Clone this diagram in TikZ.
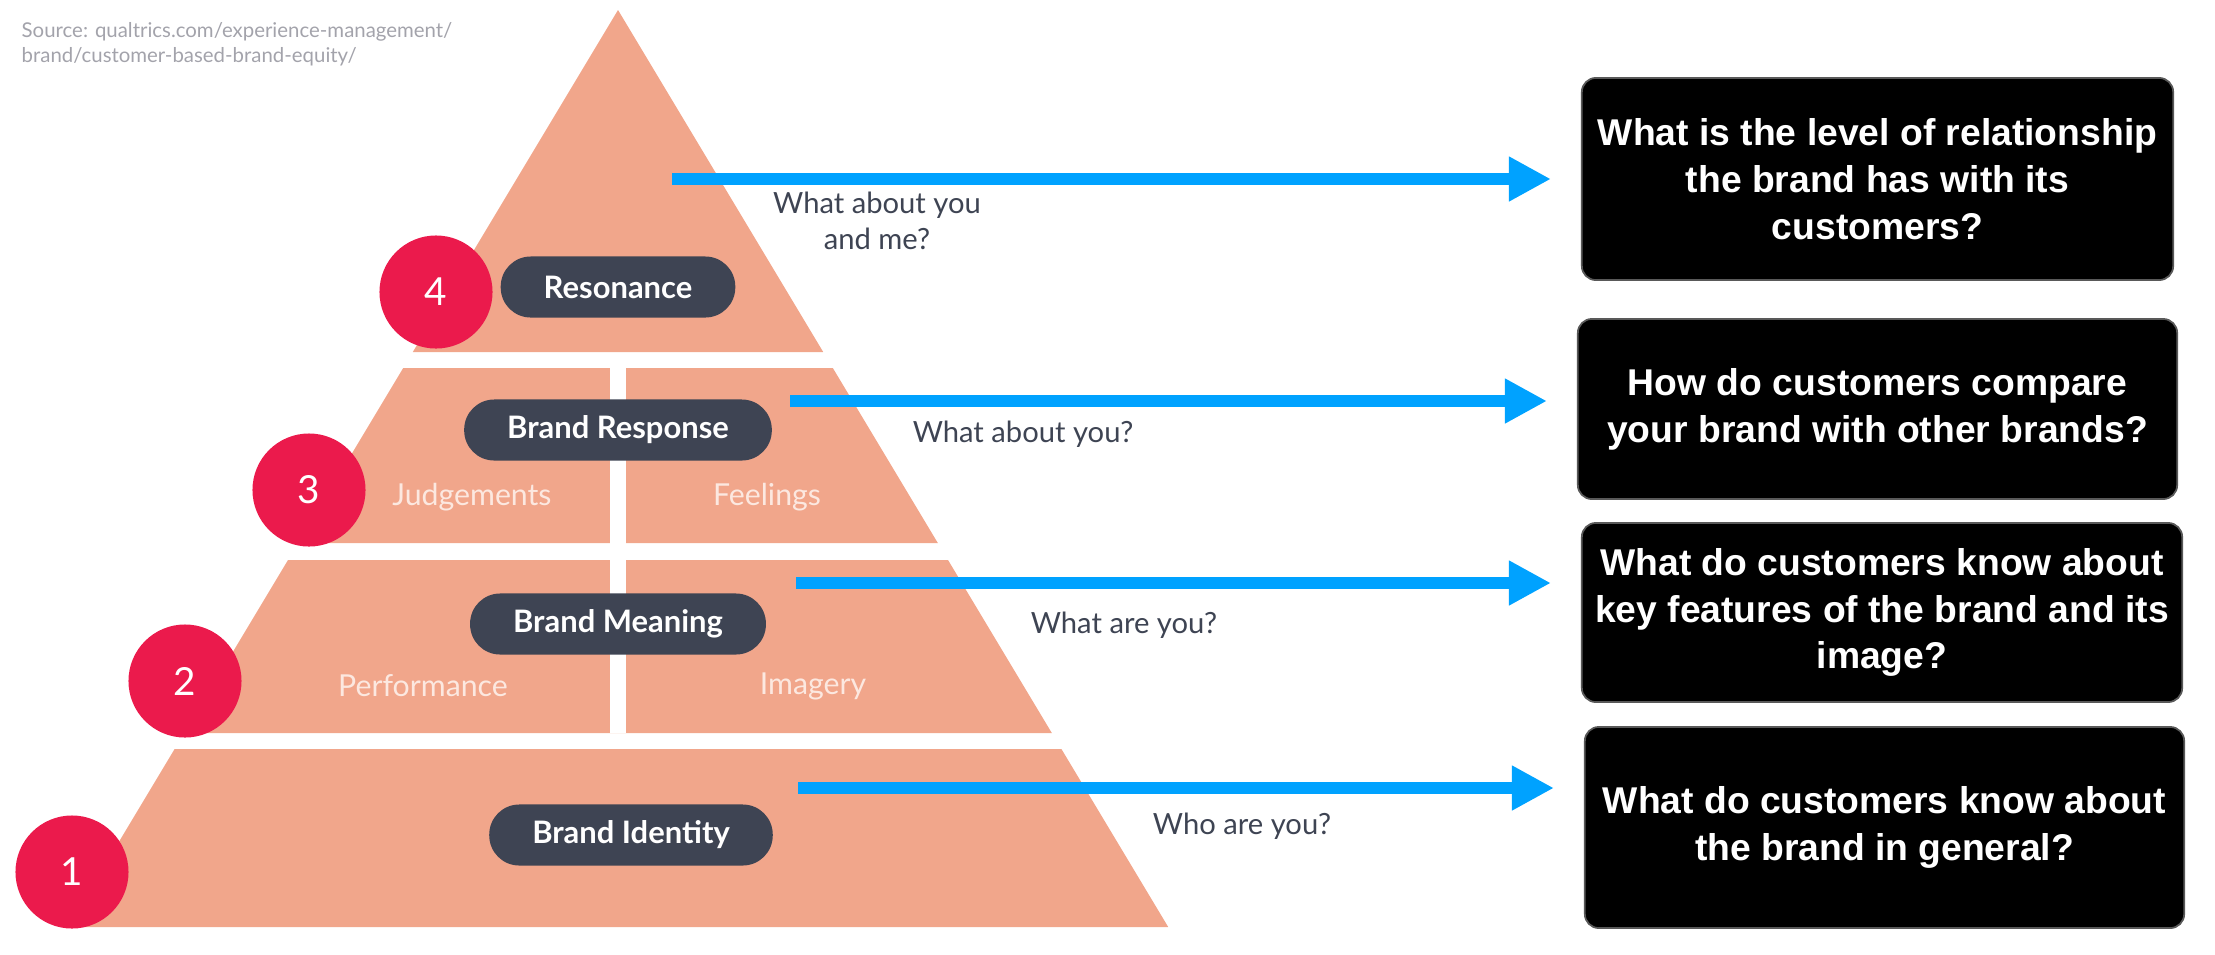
\documentclass[tikz,border=0pt]{standalone}
\usepackage{fontspec}
\setmainfont{Lato}
\newfontfamily\boxfont{Liberation Sans}
\usetikzlibrary{arrows.meta}

\definecolor{pyr}{HTML}{F1A68B}    % pyramid tiers
\definecolor{slate}{HTML}{3E4453}  % pills and labels
\definecolor{crim}{HTML}{EB1A4C}   % level numbers
\definecolor{azure}{HTML}{00A2FF}  % arrows
\definecolor{srcgray}{HTML}{A3A3AB}
\definecolor{pale}{HTML}{FCE8E0}

\begin{document}
\begin{tikzpicture}[x=0.01cm,y=-0.01cm,
  pill/.style={fill=slate,text=white,font=\fontsize{8.8}{10}\selectfont\bfseries,
    rounded corners=0.3cm,minimum height=0.61cm,inner xsep=0.43cm},
  lvl/.style={circle,fill=crim,text=white,minimum size=1.13cm,inner sep=0pt,
    font=\fontsize{11}{13}\selectfont},
  sub/.style={text=pale,font=\fontsize{8.6}{10}\selectfont},
  ask/.style={text=slate,font=\fontsize{8.3}{10.4}\selectfont,align=center},
  qbox/.style={fill=black,draw=black!65,line width=0.5pt,rounded corners=0.14cm,
    text=white,align=center,inner sep=0pt,
    font=\boxfont\bfseries\fontsize{10.6}{13.3}\selectfont},
  arr/.style={azure,line width=0.115cm,-{Triangle[length=0.42cm,width=0.42cm]},
    shorten >=0.3cm}]

\useasboundingbox (0,0) rectangle (2215,954);

%Pyramid parameters
\def\ax{618}      %apex x
\def\ay{10}       %apex y
\def\slp{0.6}     %half width per unit of height

% Top tier (triangle)
\fill[pyr] (\ax,\ay) -- ({\ax+\slp*(352-\ay)},352) -- ({\ax-\slp*(352-\ay)},352) -- cycle;

% Lower tiers
\foreach \ta/\tb in {368/543,560/733,749/927}
  \fill[pyr] ({\ax-\slp*(\ta-\ay)},\ta) -- ({\ax+\slp*(\ta-\ay)},\ta)
    -- ({\ax+\slp*(\tb-\ay)},\tb) -- ({\ax-\slp*(\tb-\ay)},\tb) -- cycle;

% Split of the two middle tiers
\draw[white,line width=0.16cm] (\ax,368) -- (\ax,733);

% Tier names
\node[pill] (rsn) at (618,287) {Resonance};
\node[pill] (rsp) at (618,430) {Brand Response};
\node[pill] (mng) at (618,624) {Brand Meaning};
\node[pill] (idn) at (631,835) {Brand Identity};

\node[sub] (jdg) at (472,497) {Judgements};
\node[sub] (fel) at (767,497) {Feelings};
\node[sub] (prf) at (423,686) {Performance};
\node[sub] (img) at (813,686) {Imagery};

% Level numbers
\node[lvl] (n4) at (436,292) {4};
\node[lvl] (n3) at (309,490) {3};
\node[lvl] (n2) at (185,681) {2};
\node[lvl] (n1) at (72,872) {1};

% Questions on the right
\node[qbox,minimum width=5.91cm,minimum height=2.02cm] (qrsn) at (1877.5,179)
  {What is the level of relationship\\the brand has with its\\customers?};
\node[qbox,minimum width=5.99cm,minimum height=1.80cm] (qrsp) at (1877.5,409)
  {How do customers compare\\your brand with other brands?};
\node[qbox,minimum width=6.00cm,minimum height=1.79cm] (qmng) at (1882,612.5)
  {What do customers know about\\key features of the brand and its\\image?};
\node[qbox,minimum width=5.99cm,minimum height=2.01cm] (qidn) at (1884.5,827.5)
  {What do customers know about\\the brand in general?};

% Arrows
\coordinate (a1) at (672,179);
\coordinate (a2) at (790,401);
\coordinate (a3) at (796,583);
\coordinate (a4) at (798,788);

\draw[arr] (a1) -- (a1 -| qrsn.west);
\draw[arr] (a2) -- (a2 -| qrsp.west);
\draw[arr] (a3) -- (a3 -| qmng.west);
\draw[arr] (a4) -- (a4 -| qidn.west);

\node[ask] (w4) at (877,221) {What about you\\and me?};
\node[ask] (w3) at (1023,434) {What about you?};
\node[ask] (w2) at (1124,625) {What are you?};
\node[ask] (w1) at (1242,826) {Who are you?};

% Source
\node[text=srcgray,font=\fontsize{5.8}{7.1}\selectfont,align=left,anchor=north west,
  inner sep=0pt] (src) at (21,22)
  {Source: qualtrics.com/experience-management/\\brand/customer-based-brand-equity/};

\end{tikzpicture}
\end{document}
